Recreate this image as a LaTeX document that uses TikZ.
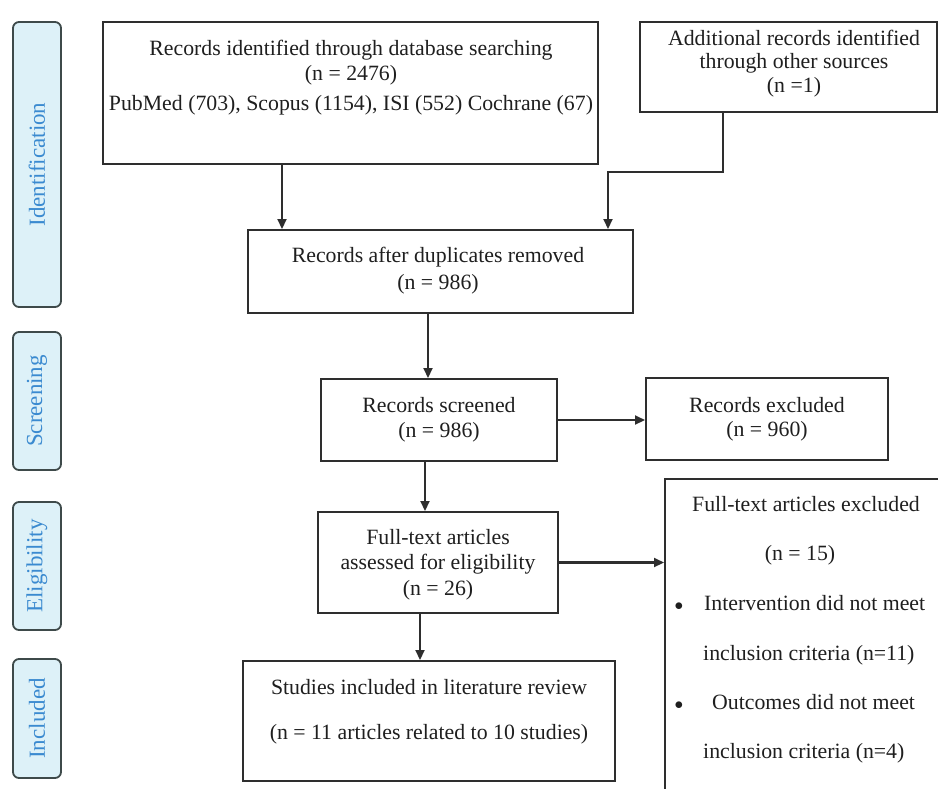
\documentclass[tikz,border=0pt]{standalone}
\usepackage{fontspec}
\setmainfont{Liberation Serif}
\usetikzlibrary{arrows.meta}
\definecolor{lineC}{HTML}{2E2E2E}
\definecolor{sideFill}{HTML}{DDF1F8}
\definecolor{sideText}{HTML}{3A8AD0}
\definecolor{sideLine}{HTML}{3E4A4A}
\tikzset{
  box/.style={draw=lineC, line width=2pt, rectangle, inner sep=0pt},
  txt/.style={inner sep=0pt, text height=14pt, text depth=4pt, font=\fontsize{21.8}{25}\selectfont, text=black!88},
  sidebox/.style={draw=sideLine, fill=sideFill, line width=1.8pt, rounded corners=6pt, rotate=90, minimum height=48pt, inner sep=0pt, font=\fontsize{23}{25}\selectfont, text=sideText},
  arr/.style={draw=lineC, line width=2.1pt, -{Triangle[length=10pt,width=9pt]}},
}
\begin{document}
\begin{tikzpicture}[x=1pt,y=-1pt]
\clip (0,0) rectangle (938,788);
\fill[white] (0,0) rectangle (938,788);

% side labels
\node[sidebox, minimum width=285pt] (sideI) at (37,164.5) {Identification};
\node[sidebox, minimum width=138pt] (sideS) at (37,401) {Screening};
\node[sidebox, minimum width=128pt] (sideE) at (37,566) {Eligibility};
\node[sidebox, minimum width=119pt] (sideN) at (37,718.5) {Included};

% boxes
\node[box, minimum width=495pt, minimum height=142pt] (box1) at (350.5,93) {};
\node[box, minimum width=297pt, minimum height=90pt] (box2) at (788.5,67) {};
\node[box, minimum width=385pt, minimum height=83pt] (box3) at (440.5,271.5) {};
\node[box, minimum width=236pt, minimum height=82pt] (box4) at (439,420) {};
\node[box, minimum width=242pt, minimum height=82pt] (box5) at (767,419) {};
\node[box, minimum width=240pt, minimum height=101pt] (box6) at (438,562.5) {};
\node[box, minimum width=300pt, minimum height=341pt] (box7) at (815,649.5) {};
\node[box, minimum width=372pt, minimum height=120pt] (box8) at (429,721) {};

% texts
\node[txt] (t1a) at (351,50) {Records identified through database searching};
\node[txt] (t1b) at (351,75) {(n = 2476)};
\node[txt] (t1c) at (351,105) {PubMed (703), Scopus (1154), ISI (552) Cochrane (67)};

\node[txt] (t2a) at (794,40) {Additional records identified};
\node[txt] (t2b) at (794,63) {through other sources};
\node[txt] (t2c) at (794,87) {(n =1)};

\node[txt] (t3a) at (438,257) {Records after duplicates removed};
\node[txt] (t3b) at (438,284) {(n = 986)};

\node[txt] (t4a) at (439,407) {Records screened};
\node[txt] (t4b) at (439,432) {(n = 986)};

\node[txt] (t5a) at (767,407) {Records excluded};
\node[txt] (t5b) at (767,431) {(n = 960)};

\node[txt] (t6a) at (438,539) {Full-text articles};
\node[txt] (t6b) at (438,564) {assessed for eligibility};
\node[txt] (t6c) at (438,590) {(n = 26)};

\node[txt] (t7a) at (806,506) {Full-text articles excluded};
\node[txt] (t7b) at (800,555) {(n = 15)};
\node[txt, font=\fontsize{16}{20}\selectfont] (b7a) at (679,605) {$\bullet$};
\node[txt, anchor=west] (t7c) at (704,605) {Intervention did not meet};
\node[txt, anchor=west] (t7d) at (703,655) {inclusion criteria (n=11)};
\node[txt, font=\fontsize{16}{20}\selectfont] (b7b) at (679,704) {$\bullet$};
\node[txt, anchor=west] (t7e) at (712,704) {Outcomes did not meet};
\node[txt, anchor=west] (t7f) at (703,753) {inclusion criteria (n=4)};

\node[txt] (t8a) at (429,689) {Studies included in literature review};
\node[txt] (t8b) at (429,734) {(n = 11 articles related to 10 studies)};

% connector x positions
\coordinate (xa) at (282,0);
\coordinate (kb) at (723,172);
\coordinate (kc) at (608,172);
\coordinate (xd) at (428,0);
\coordinate (xe) at (425,0);
\coordinate (xf) at (420,0);

% connectors
\draw[arr] (xa |- box1.south) -- (xa |- box3.north);
\draw[arr] (kb |- box2.south) -- (kb) -- (kc) -- (kc |- box3.north);
\draw[arr] (xd |- box3.south) -- (xd |- box4.north);
\draw[arr] (box4.east) -- (box4.east -| box5.west);
\draw[arr] (xe |- box4.south) -- (xe |- box6.north);
\draw[arr] (box6.east) -- (box6.east -| box7.west);
\draw[arr] (xf |- box6.south) -- (xf |- box8.north);
\end{tikzpicture}
\end{document}
